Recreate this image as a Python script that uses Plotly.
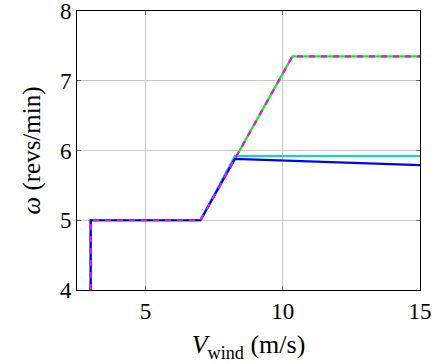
import plotly.graph_objects as go

# data
v_base = [3, 3, 7, 10.35, 15]
w_base = [4, 5, 5, 7.35, 7.35]
v_cyan = [3, 3, 7, 8.25, 15]
w_cyan = [4, 5, 5, 5.92, 5.92]
v_blue = [3, 3, 7, 8.25, 15]
w_blue = [4, 5, 5, 5.88, 5.79]

x_ticks = [5, 10, 15]
y_ticks = [4, 5, 6, 7, 8]

fig = go.Figure()
fig.add_trace(go.Scatter(x=v_base, y=w_base, mode="lines",
                         line=dict(color="#00ff00", width=2.2)))
fig.add_trace(go.Scatter(x=v_cyan, y=w_cyan, mode="lines",
                         line=dict(color="#22cccc", width=2.2)))
fig.add_trace(go.Scatter(x=v_blue, y=w_blue, mode="lines",
                         line=dict(color="#0000ff", width=2.2)))
fig.add_trace(go.Scatter(x=v_base, y=w_base, mode="lines",
                         line=dict(color="#ff00ff", width=2.2, dash="6px,6px")))

font = "Liberation Serif, DejaVu Serif, serif"
fig.update_layout(
    width=440, height=364,
    margin=dict(l=77, r=20, t=11, b=74, autoexpand=False),
    plot_bgcolor="white", paper_bgcolor="white",
    showlegend=False,
    font=dict(family=font, size=23, color="black"),
    xaxis=dict(range=[2.5, 15.0001], tickvals=x_ticks, showgrid=True,
               gridcolor="#c8c8c8", gridwidth=1, zeroline=False,
               showline=True, linecolor="black", linewidth=1, mirror="ticks",
               ticks="inside", ticklen=4, tickcolor="#666", automargin=False,
               ticklabeloverflow="allow",
               title=dict(text="<i>V</i><sub>wind</sub> (m/s)", standoff=12,
                          font=dict(size=26))),
    yaxis=dict(range=[3.9999, 8.0001], tickvals=y_ticks, showgrid=True,
               gridcolor="#c8c8c8", gridwidth=1, zeroline=False,
               showline=True, linecolor="black", linewidth=1, mirror="ticks",
               ticks="inside", ticklen=4, tickcolor="#666", automargin=False,
               ticklabeloverflow="allow",
               title=dict(text="<i>ω</i> (revs/min)", standoff=12,
                          font=dict(size=25))),
)
fig.write_html("out.html")
